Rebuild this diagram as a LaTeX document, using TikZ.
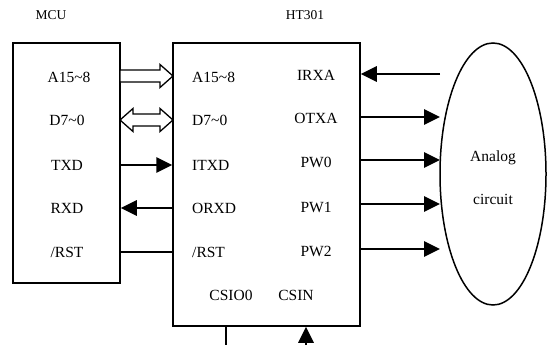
\documentclass[tikz,border=0pt]{standalone}
\usepackage{fontspec}
\setmainfont{Liberation Serif}
\usetikzlibrary{arrows.meta,shapes.geometric}
\begin{document}
\begin{tikzpicture}[x=1pt,y=-1pt,
  lbl/.style={font=\fontsize{15.5}{17}\selectfont, inner sep=0pt},
  ttl/.style={font=\fontsize{13.5}{15}\selectfont, inner sep=0pt},
  box/.style={draw, line width=1.5pt, inner sep=0pt},
  arr/.style={line width=2.8pt, -{Triangle[length=16pt,width=15pt]}},
  wire/.style={line width=1.5pt},
  hollow/.style={draw, line width=1.3pt, fill=white, line join=miter}]
\useasboundingbox (0,0) rectangle (548,345);
% boxes
\node[box, minimum width=107pt, minimum height=240pt] (mcu) at (66.5,163) {};
\node[box, minimum width=187pt, minimum height=283pt] (ht) at (266.5,184.5) {};
\node[draw, line width=1.5pt, ellipse, minimum width=106pt, minimum height=262pt, inner sep=0pt] (an) at (493,174) {};
% titles
\node[ttl] (tmcu) at (51,15) {MCU};
\node[ttl] (tht) at (305,15) {HT301};
% MCU labels
\node[lbl] (ma) at (69,77) {A15\char`~8};
\node[lbl] (md) at (67,120) {D7\char`~0};
\node[lbl] (mt) at (67,165) {TXD};
\node[lbl] (mr) at (67,208) {RXD};
\node[lbl] (ms) at (67,252) {/RST};
% HT left labels
\node[lbl, anchor=west] (ha) at (192,77) {A15\char`~8};
\node[lbl, anchor=west] (hd) at (192,120) {D7\char`~0};
\node[lbl, anchor=west] (ht1) at (192,165) {ITXD};
\node[lbl, anchor=west] (hr) at (192,208) {ORXD};
\node[lbl, anchor=west] (hs) at (192,252) {/RST};
% HT right labels
\node[lbl] (hirxa) at (316,75) {IRXA};
\node[lbl] (hotxa) at (316,118) {OTXA};
\node[lbl] (hpw0) at (316,162) {PW0};
\node[lbl] (hpw1) at (316,207) {PW1};
\node[lbl] (hpw2) at (316,251) {PW2};
\node[lbl] (hcs0) at (231,295) {CSIO0};
\node[lbl] (hcsin) at (296,295) {CSIN};
% analog
\node[lbl] (aa) at (493,158) {Analog};
\node[lbl] (ac) at (493,199) {circuit};
% hollow arrows
\draw[hollow] (120,70) -- (160,70) -- (160,64.5) -- (173,76) -- (160,87.5) -- (160,82) -- (120,82) -- cycle;
\draw[hollow] (120,120) -- (133,108.5) -- (133,114) -- (160,114) -- (160,108.5) -- (173,120) -- (160,131.5) -- (160,126) -- (133,126) -- (133,131.5) -- cycle;
% signal arrows
\draw[arr] (mcu.east |- mt) -- (ht.west |- mt);
\draw[arr] (ht.west |- mr) -- (mcu.east |- mr);
\draw[wire] (mcu.east |- ms) -- (ht.west |- ms);
\coordinate (irx) at (440,74);
\coordinate (otx) at (440,117);
\coordinate (pw0) at (440,160);
\coordinate (pw1) at (440,204);
\coordinate (pw2) at (440,249);
\draw[arr] (irx) -- (ht.east |- irx);
\draw[arr] (ht.east |- otx) -- (otx);
\draw[arr] (ht.east |- pw0) -- (pw0);
\draw[arr] (ht.east |- pw1) -- (pw1);
\draw[arr] (ht.east |- pw2) -- (pw2);
% bottom
\coordinate (b1) at (226,345);
\coordinate (b2) at (306,345);
\draw[wire] (ht.south -| b1) -- (b1);
\draw[arr] (b2) -- (ht.south -| b2);
\end{tikzpicture}
\end{document}
